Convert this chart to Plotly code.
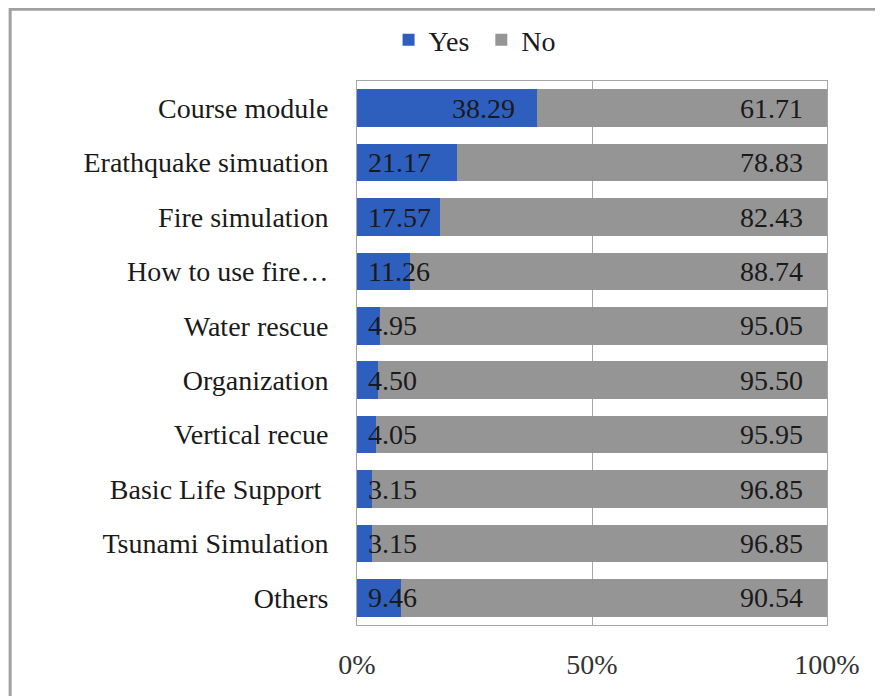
import plotly.graph_objects as go

# training topics, top to bottom as in the chart
topics = ["Course module", "Erathquake simuation", "Fire simulation", "How to use fire…",
          "Water rescue", "Organization", "Vertical recue", "Basic Life Support ",
          "Tsunami Simulation", "Others"]
yes_pct = [38.29, 21.17, 17.57, 11.26, 4.95, 4.50, 4.05, 3.15, 3.15, 9.46]
no_pct = [61.71, 78.83, 82.43, 88.74, 95.05, 95.50, 95.95, 96.85, 96.85, 90.54]
tick_vals = [0, 50, 100]
tick_text = ["0%", "50%", "100%"]

FONT = "Liberation Serif, Times New Roman, serif"
BLUE = "#2f5fbe"
GREY = "#959595"

fig = go.Figure()
fig.add_trace(go.Bar(y=topics, x=yes_pct, name="Yes\u00a0", orientation="h",
                     marker=dict(color=BLUE, line=dict(width=0))))
fig.add_trace(go.Bar(y=topics, x=no_pct, name="No", orientation="h",
                     marker=dict(color=GREY, line=dict(width=0))))

# data labels: Yes near the base (largest one sits at its end), No at the right end
annots = []
top_yes = max(yes_pct)
for t, yv, nv in zip(topics, yes_pct, no_pct):
    if yv == top_yes:
        annots.append(dict(x=yv, y=t, text=f"{yv:.2f}", xanchor="right", xshift=-20,
                           showarrow=False, font=dict(family=FONT, size=28, color="#1a1a1a")))
    else:
        annots.append(dict(x=0, y=t, text=f"{yv:.2f}", xanchor="left", xshift=9,
                           showarrow=False, font=dict(family=FONT, size=28, color="#1a1a1a")))
    annots.append(dict(x=100, y=t, text=f"{nv:.2f}", xanchor="right", xshift=-22,
                       showarrow=False, font=dict(family=FONT, size=28, color="#1a1a1a")))

fig.update_layout(
    width=883, height=696,
    barmode="stack", bargap=0.31,
    paper_bgcolor="white", plot_bgcolor="white",
    margin=dict(l=349, r=64, t=73, b=79),
    font=dict(family=FONT, size=28, color="#1a1a1a"),
    showlegend=True,
    legend=dict(orientation="h", xref="container", yref="container",
                x=0.431, y=0.954, xanchor="left", yanchor="middle",
                bgcolor="rgba(0,0,0,0)",
                font=dict(family=FONT, size=28, color="#1a1a1a"),
                traceorder="normal", itemwidth=30),
    annotations=annots,
    shapes=[dict(type="rect", xref="paper", yref="paper",
                 x0=-0.738, x1=1.3, y0=-0.3, y1=1.132,
                 line=dict(color="#a0a0a0", width=3), layer="below")],
)
fig.update_xaxes(range=[0, 100], tickvals=tick_vals, ticktext=tick_text,
                 showgrid=True, gridcolor="#a6a6a6", gridwidth=1,
                 showline=True, linecolor="#a6a6a6", mirror=True,
                 ticks="outside", ticklen=14, tickcolor="white",
                 tickfont=dict(size=28, color="#333333"), zeroline=False)
fig.update_yaxes(autorange="reversed", showline=True, linecolor="#a6a6a6", mirror=True,
                 ticks="outside", ticklen=22, tickcolor="white",
                 tickfont=dict(size=28, color="#1a1a1a"), showgrid=False)

fig.write_html("out.html")
